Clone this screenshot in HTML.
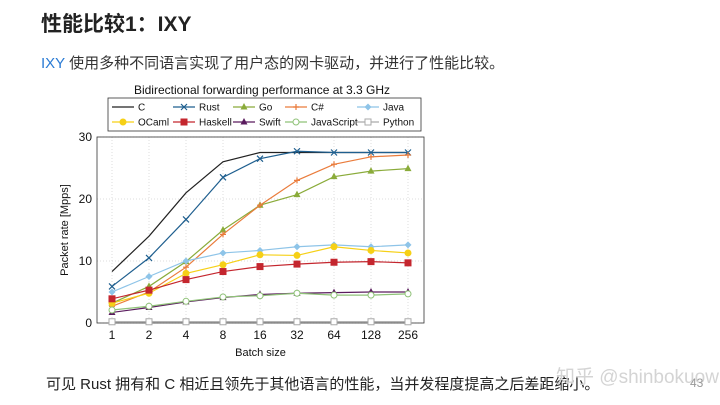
<!DOCTYPE html>
<html><head><meta charset="utf-8"><style>
body{margin:0;width:720px;height:405px;background:#fff;overflow:hidden;position:relative;font-family:"Liberation Sans","Noto Sans CJK SC",sans-serif}
.t{position:absolute;white-space:nowrap}
</style></head><body>
<div class="t" style="left:41px;top:8px;font-size:21px;font-weight:bold;color:#222">性能比较1：IXY</div>
<div class="t" style="left:41px;top:52px;font-size:15px;color:#333"><span style="color:#2a7bd4">IXY</span> 使用多种不同语言实现了用户态的网卡驱动，并进行了性能比较。</div>
<div class="t" style="left:46px;top:373px;font-size:15px;color:#222">可见 Rust 拥有和 C 相近且领先于其他语言的性能，当并发程度提高之后差距缩小。</div>
<div class="t" style="left:556px;top:362px;font-size:19px;color:#d4d4d4">知乎 @shinbokuow</div>
<div class="t" style="left:690px;top:376px;font-size:12px;color:#999">43</div>
<svg id="chart" width="720" height="405" style="position:absolute;left:0;top:0" font-family="Liberation Sans, sans-serif"></svg>
<script>
const categories=["1","2","4","8","16","32","64","128","256"];
const yTicks=[0,10,20,30];
const names=["C","Rust","Go","C#","Java","OCaml","Haskell","Swift","JavaScript","Python"];
const colors=["#222","#1f5f8f","#8aab3a","#ea7c3c","#8ec4e8","#f6d016","#c4262e","#5a1b5e","#8fc278","#aaa"];
const markers=["none","x","tri","plus","diamond","circle","square","tri","ocircle","osquare"];
const sC=[8.3,14,21,26,27.5,27.5,27.5,27.5,27.5];
const sRust=[5.9,10.5,16.7,23.5,26.5,27.7,27.5,27.5,27.5];
const sGo=[3.2,5.9,9.9,15,19,20.7,23.6,24.5,24.9];
const sCs=[2.7,5.0,9.0,14.3,19,23,25.6,26.8,27.1];
const sJava=[5.0,7.5,10.0,11.3,11.7,12.3,12.6,12.3,12.6];
const sOCaml=[3.2,4.8,8.0,9.4,11.0,10.9,12.3,11.7,11.3];
const sHaskell=[3.9,5.3,7.0,8.3,9.1,9.5,9.8,9.9,9.7];
const sSwift=[1.7,2.5,3.4,4.1,4.6,4.8,4.9,5.0,5.0];
const sJS=[2.1,2.7,3.5,4.2,4.4,4.8,4.5,4.5,4.7];
const sPython=[0.2,0.2,0.2,0.2,0.2,0.2,0.2,0.2,0.2];
const series=[sC,sRust,sGo,sCs,sJava,sOCaml,sHaskell,sSwift,sJS,sPython];
const svg=document.getElementById('chart');const NS="http://www.w3.org/2000/svg";
function el(t,a,p){const e=document.createElementNS(NS,t);for(const k in a)e.setAttribute(k,a[k]);(p||svg).appendChild(e);return e;}
const L=97,R=424,T=137,B=323;
const x=i=>112+i*(408-112)/(categories.length-1);
const y=v=>B-(v/30)*(B-T);
function marker(m,cx,cy,c,g){
 if(m==="x"){el('path',{d:`M${cx-3} ${cy-3}L${cx+3} ${cy+3}M${cx-3} ${cy+3}L${cx+3} ${cy-3}`,stroke:c,'stroke-width':1.2},g);}
 else if(m==="plus"){el('path',{d:`M${cx-3} ${cy}L${cx+3} ${cy}M${cx} ${cy-3}L${cx} ${cy+3}`,stroke:c,'stroke-width':1.2},g);}
 else if(m==="tri"){el('path',{d:`M${cx} ${cy-4}L${cx+3.5} ${cy+2.5}L${cx-3.5} ${cy+2.5}Z`,fill:c},g);}
 else if(m==="diamond"){el('path',{d:`M${cx} ${cy-3.5}L${cx+3.5} ${cy}L${cx} ${cy+3.5}L${cx-3.5} ${cy}Z`,fill:c},g);}
 else if(m==="circle"){el('circle',{cx,cy,r:3.5,fill:c},g);}
 else if(m==="square"){el('rect',{x:cx-3.5,y:cy-3.5,width:7,height:7,fill:c},g);}
 else if(m==="ocircle"){el('circle',{cx,cy,r:3,fill:'#fff',stroke:c},g);}
 else if(m==="osquare"){el('rect',{x:cx-3,y:cy-3,width:6,height:6,fill:'#fff',stroke:c},g);}
}
categories.forEach((c,i)=>{const g=el('line',{x1:x(i),x2:x(i),y1:T,y2:B,stroke:'#ddd','stroke-dasharray':'1,2'});

const t=el('text',{x:x(i),y:B+16,'font-size':12,'text-anchor':'middle',fill:'#111'});t.textContent=c;
});
yTicks.forEach(v=>{const g=el('line',{x1:L,x2:R,y1:y(v),y2:y(v),stroke:'#ddd','stroke-dasharray':'1,2'});

const t=el('text',{x:L-5,y:y(v)+4,'font-size':12,'text-anchor':'end',fill:'#111'});t.textContent=v;
});
const frame=el('rect',{x:L,y:T,width:R-L,height:B-T,fill:'none',stroke:'#333','stroke-width':0.8});

series.forEach((s,k)=>{const g=el('g',{});
 el('polyline',{points:s.map((v,i)=>x(i)+','+y(v)).join(' '),fill:'none',stroke:colors[k],'stroke-width':1.2},g);
 s.forEach((v,i)=>marker(markers[k],x(i),y(v),colors[k],g));});
const ttl=el('text',{x:262,y:94,'font-size':12,'text-anchor':'middle',fill:'#111'});ttl.textContent="Bidirectional forwarding performance at 3.3 GHz";

const yl=el('text',{x:0,y:0,'font-size':11,'text-anchor':'middle',fill:'#111',transform:`translate(68,${(T+B)/2}) rotate(-90)`});yl.textContent="Packet rate [Mpps]";

const xl=el('text',{x:(L+R)/2,y:356,'font-size':11,'text-anchor':'middle',fill:'#111'});xl.textContent="Batch size";

const lg=el('g',{});
el('rect',{x:108,y:98,width:313,height:33,fill:'#fff',stroke:'#333','stroke-width':0.8},lg);
names.forEach((n,k)=>{const r=Math.floor(k/5),c=k%5;const ex=[112,173,233,285,357][c],yy=107+r*15;
 const e=el('g',{},lg);
 el('line',{x1:ex,x2:ex+22,y1:yy,y2:yy,stroke:colors[k],'stroke-width':1.2},e);
 marker(markers[k],ex+11,yy,colors[k],e);
 const t=el('text',{x:ex+26,y:yy+3.5,'font-size':10,fill:'#111'},e);t.textContent=n;});
</script>
</body></html>
